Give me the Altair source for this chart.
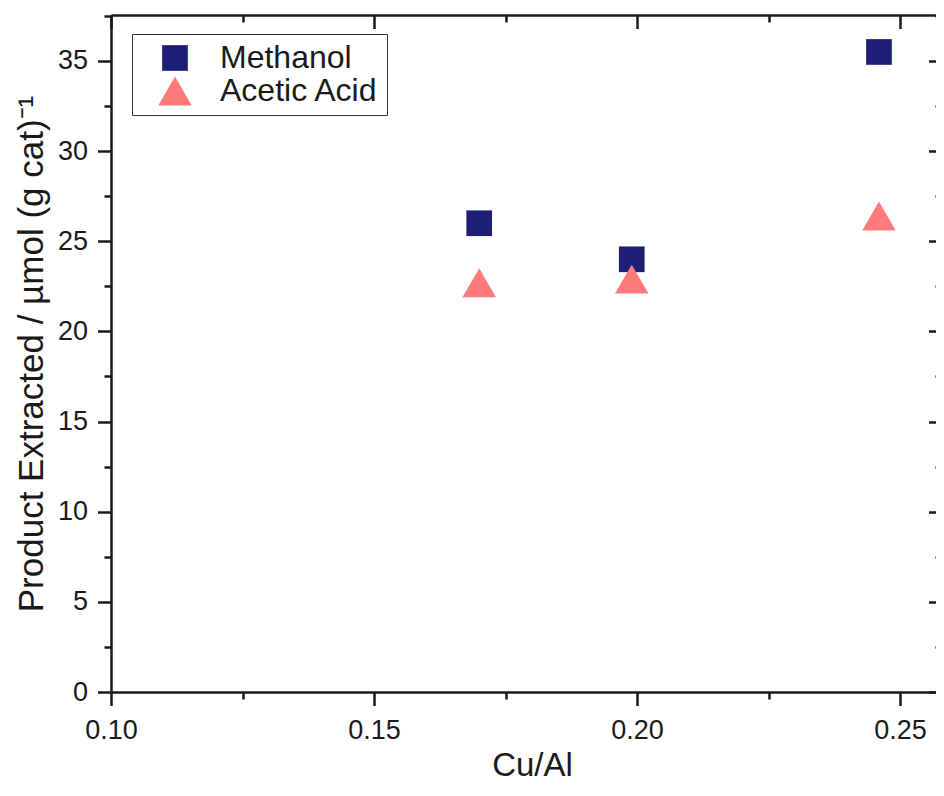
import altair as alt
import pandas as pd

# ---- data ----
cu_al = [0.170, 0.199, 0.246]
methanol = [26.0, 24.0, 35.5]
acetic_acid = [22.7, 22.9, 26.4]
series_names = ["Methanol", "Acetic Acid"]
x_ticks = [0.100, 0.125, 0.150, 0.175, 0.200, 0.225, 0.250]
y_ticks = [0, 2.5, 5, 7.5, 10, 12.5, 15, 17.5, 20, 22.5, 25, 27.5, 30, 32.5, 35, 37.5]

rows = []
for x, v in zip(cu_al, methanol):
    rows.append({"cu_al": x, "value": v, "series": "Methanol"})
for x, v in zip(cu_al, acetic_acid):
    rows.append({"cu_al": x, "value": v, "series": "Acetic Acid"})
df = pd.DataFrame(rows)

W, H = 825, 677
FRAME_W = 831
XDOM = [0.10, 0.25684]
YDOM = [0, 37.55]

FONT = "Liberation Sans"
INK = "#1a1a1a"
x_major = "abs(datum.value*20 - round(datum.value*20)) < 0.001"
y_major = "abs(datum.value/5 - round(datum.value/5)) < 0.001"


def tsize(test):
    return {"condition": {"test": test, "value": 13.5}, "value": 7}


common = dict(grid=False, domainColor=INK, domainWidth=2.5, tickColor=INK,
              tickWidth=2.5, labelOverlap=False, labelFlush=False)

xscale = alt.Scale(domain=XDOM, nice=False, zero=False)
yscale = alt.Scale(domain=YDOM, nice=False, zero=False)

legend = alt.Legend(title=None, orient="none", legendX=21, legendY=19,
                    strokeColor="#333333", padding=8, symbolOffset=18,
                    labelOffset=28, rowPadding=0, labelFont=FONT,
                    labelFontSize=32, labelColor=INK, labelLimit=400,
                    symbolStrokeWidth=0)

points = alt.Chart(df).mark_point(filled=True, opacity=1, strokeWidth=0).encode(
    x=alt.X("cu_al:Q", scale=xscale, axis=alt.Axis(
        orient="bottom", values=x_ticks, tickSize=tsize(x_major),
        labelExpr=f"{x_major} ? format(datum.value, '.2f') : ''",
        labelFont=FONT, labelFontSize=27, labelColor=INK, labelPadding=12,
        title="Cu/Al", titleFont=FONT, titleFontSize=33, titleFontWeight="normal",
        titleColor=INK, titlePadding=6, titleX=421, **common)),
    y=alt.Y("value:Q", scale=yscale, axis=alt.Axis(
        orient="left", values=y_ticks, tickSize=tsize(y_major),
        labelExpr=f"{y_major} ? format(datum.value, 'd') : ''",
        labelFont=FONT, labelFontSize=27, labelColor=INK, labelPadding=10,
        title="Product Extracted / µmol (g cat)⁻¹", titleFont=FONT,
        titleFontSize=35, titleFontWeight="normal", titleColor=INK,
        titlePadding=8, **common)),
    color=alt.Color("series:N", scale=alt.Scale(domain=series_names,
                    range=["#1d1f77", "#ff7b7b"]), legend=legend),
    shape=alt.Shape("series:N", scale=alt.Scale(domain=series_names,
                    range=["square", "triangle-up"]), legend=legend),
    size=alt.Size("series:N", scale=alt.Scale(domain=series_names,
                  range=[660, 1120]), legend=legend),
)

frame = alt.Chart(df).mark_point(opacity=0).encode(
    x=alt.X("cu_al:Q", scale=xscale, axis=alt.Axis(
        orient="bottom", offset=-H, values=x_ticks, tickSize=tsize(x_major),
        labels=False, title=None, **common)),
    y=alt.Y("value:Q", scale=yscale, axis=alt.Axis(
        orient="left", offset=-FRAME_W, values=y_ticks, tickSize=tsize(y_major),
        labels=False, title=None, **common)),
)

chart = alt.layer(points, frame).resolve_axis(
    x="independent", y="independent"
).properties(
    width=W, height=H,
    autosize=alt.AutoSizeParams(type="none"),
    padding={"left": 103, "top": 7, "right": 0, "bottom": 90},
    background="white",
).configure_view(stroke=None)

chart.save("out.html", embed_options={"renderer": "svg", "actions": False})
